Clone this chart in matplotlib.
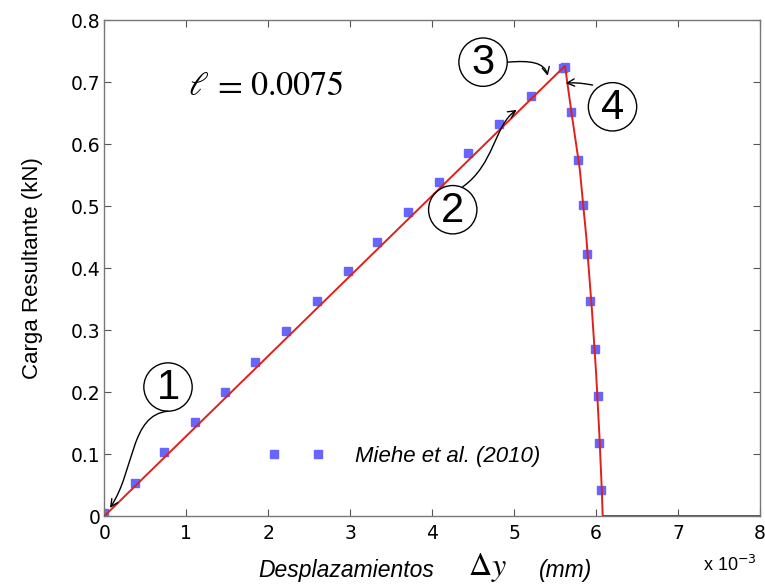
import matplotlib
matplotlib.use("Agg")
import matplotlib.pyplot as plt
from matplotlib.patches import Ellipse, FancyArrowPatch
from matplotlib.path import Path
from matplotlib.legend_handler import HandlerLine2D

plt.rcParams['font.family'] = ['Liberation Sans', 'DejaVu Sans']

# Data (x in units of 1e-3 mm, y in kN)
miehe_x = [0.0, 0.378, 0.73, 1.10, 1.465, 1.84, 2.22, 2.59, 2.97, 3.33, 3.71, 4.08, 4.44, 4.82, 5.20, 5.59, 5.62,
           5.69, 5.78, 5.84, 5.89, 5.93, 5.99, 6.02, 6.04, 6.06]
miehe_y = [0.005, 0.053, 0.103, 0.151, 0.200, 0.249, 0.299, 0.347, 0.395, 0.442, 0.491, 0.539, 0.586, 0.633, 0.678, 0.722, 0.724,
           0.651, 0.575, 0.501, 0.422, 0.347, 0.270, 0.194, 0.117, 0.042]
model_x = [0.0, 5.62, 5.70, 5.80, 5.88, 5.95, 6.00, 6.04, 6.07, 6.08, 8.0]
model_y = [0.0, 0.726, 0.650, 0.560, 0.450, 0.330, 0.230, 0.130, 0.040, 0.0, 0.0]

xticks = [0, 1, 2, 3, 4, 5, 6, 7, 8]
yticks = [0, 0.1, 0.2, 0.3, 0.4, 0.5, 0.6, 0.7, 0.8]
ytick_labels = ["0", "0.1", "0.2", "0.3", "0.4", "0.5", "0.6", "0.7", "0.8"]

fig = plt.figure(figsize=(7.65, 5.86), dpi=100)
ax = fig.add_axes([104.5/765, 1-516/586, (760-104.5)/765, (516-20)/586])

ax.plot(model_x, model_y, color="#e0201c", lw=1.4, zorder=3)
ln, = ax.plot(miehe_x, miehe_y, ls="none", marker="s", ms=5.5, color="#6666ff",
              mec="#6666ff", zorder=2, label="Miehe et al. (2010)")

ax.set_xlim(0, 8)
ax.set_ylim(0, 0.8)
ax.set_xticks(xticks)
ax.set_xticklabels([str(t) for t in xticks])
ax.set_yticks(yticks)
ax.set_yticklabels(ytick_labels)
ax.tick_params(direction="in", top=True, right=True, length=5, width=0.8,
               colors="#555555", labelcolor="black")
ax.tick_params(axis="x", pad=6)
ax.tick_params(axis="y", pad=3)
for lab in ax.get_xticklabels() + ax.get_yticklabels():
    lab.set_fontfamily("DejaVu Sans")
    lab.set_fontsize(13.5)
for s in ax.spines.values():
    s.set_color("#777777")
    s.set_linewidth(1.0)

ax.set_ylabel("Carga Resultante (kN)", fontsize=16)
ax.yaxis.set_label_coords(-(104.5 - 43) / (760 - 104.5), 0.5)

# x label pieces
fig.text(258/765, 1-570/586, "Desplazamientos", fontsize=16.5, style="italic", va="center", ha="left")
fig.text(468/765, 1-568/586, r"$\Delta y$", fontsize=23, va="center", ha="left",
         math_fontfamily="stix")
fig.text(539/765, 1-570/586, "(mm)", fontsize=16.5, style="italic", va="center", ha="left")
fig.text(703/765, 1-565/586, r"x 10$^{-3}$", fontsize=13, va="center", ha="left")

# length-scale annotation
ax.text(1.02, 0.693, r"$\ell$", fontsize=24, math_fontfamily="stix", va="center", ha="left")
ax.text(1.50, 0.695, r"$=$", fontsize=26, math_fontfamily="stix", va="center", ha="center")
ax.text(1.775, 0.693, r"$0.0075$", fontsize=24.5, math_fontfamily="stix", va="center", ha="left")

# Circled labels
def circ(x, y, label):
    e = Ellipse((x, y), 0.59, 0.078, fill=False, ec="black", lw=1.0, zorder=5)
    ax.add_patch(e)
    ax.text(x, y - 0.002, label, fontsize=30, ha="center", va="center", zorder=6)

circ(0.775, 0.208, "1")
circ(4.25, 0.494, "2")
circ(4.62, 0.732, "3")
circ(6.20, 0.660, "4")

def curve_arrow(p0, p1, p2, p3):
    path = Path([p0, p1, p2, p3], [Path.MOVETO, Path.CURVE4, Path.CURVE4, Path.CURVE4])
    a = FancyArrowPatch(path=path, arrowstyle="->", mutation_scale=13, color="black",
                        lw=1.0, zorder=5)
    ax.add_patch(a)

curve_arrow((0.774, 0.169), (0.311, 0.163), (0.372, 0.074), (0.067, 0.013))
curve_arrow((4.372, 0.531), (4.76, 0.567), (4.76, 0.631), (5.03, 0.655))
curve_arrow((4.921, 0.732), (5.19, 0.735), (5.37, 0.732), (5.41, 0.710))
curve_arrow((5.957, 0.695), (5.80, 0.699), (5.72, 0.699), (5.628, 0.698))

leg = ax.legend(handles=[ln], loc="center left", bbox_to_anchor=(1.74/8, 0.0965/0.8),
                frameon=False, numpoints=2, handlelength=2.6, handletextpad=1.35,
                prop={"size": 16, "style": "italic"},
                handler_map={ln: HandlerLine2D(numpoints=2)})

fig.savefig("out.png", dpi=100)
